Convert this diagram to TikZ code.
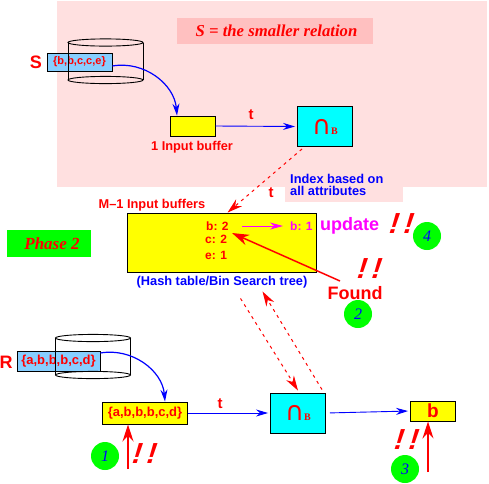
\documentclass[tikz,border=0pt]{standalone}
\usepackage{amsmath}
\usepackage{fontspec}
\setmainfont{Liberation Sans}
\newfontfamily\serifit{Liberation Serif}
\newfontfamily\capfont{DejaVu Sans}
\usepackage{xcolor}
\usetikzlibrary{arrows.meta, positioning, calc}
\definecolor{bgpink}{HTML}{FFE0E0}
\definecolor{titlepink}{HTML}{FFC0C0}
\definecolor{tagblue}{HTML}{87CEFF}
\definecolor{phasegreen}{HTML}{00FF00}
\definecolor{bufyellow}{HTML}{FFFF00}
\definecolor{probecyan}{HTML}{00FFFF}
\definecolor{updmagenta}{HTML}{FF00FF}

\begin{document}
\begin{tikzpicture}[
  x=1pt, y=-1pt,
  box/.style={rectangle, draw=black, line width=0.9pt, inner sep=0pt, text=red},
  buf/.style={box, fill=bufyellow, font=\fontsize{13}{14}\bfseries},
  probe/.style={box, fill=probecyan, minimum width=55pt, minimum height=40pt},
  tagbox/.style={box, fill=tagblue, font=\fontsize{13}{14}\bfseries},
  lbl/.style={inner sep=0pt, text=red, font=\fontsize{12.8}{14}\bfseries},
  lblblue/.style={inner sep=0pt, text=blue, align=left, font=\fontsize{12.8}{11.5}\bfseries},
  rel/.style={inner sep=0pt, text=red, font=\fontsize{18}{20}\bfseries},
  bang/.style={inner sep=0pt, text=red, xslant=0.12, font=\fontsize{29}{29}\bfseries\itshape},
  num/.style={circle, fill=phasegreen, minimum size=28pt, inner sep=0pt, text=blue, font=\serifit\fontsize{16}{16}\itshape},
  ar/.style={-{Stealth[length=12pt, width=7pt]}, line width=0.9pt, blue, shorten >=2pt},
  dsh/.style={-{Stealth[length=15pt, width=9pt]}, line width=1pt, red, dash pattern=on 3pt off 4pt},
  big/.style={-{Stealth[length=17pt, width=11pt]}, line width=1.5pt, red},
]
  \useasboundingbox (0,0) rectangle (489,483);
  % backgrounds
  \fill[bgpink] (57,1) rectangle (487,187);
  \fill[bgpink] (285,187) rectangle (403,202);
  \node[fill=titlepink, minimum width=196pt, minimum height=26pt, inner sep=0pt, text=red,
        font=\serifit\fontsize{16.7}{17}\bfseries\itshape] (title) at (275,31) {\hspace*{3pt}S = the smaller relation};
  \node[fill=phasegreen, minimum width=84pt, minimum height=27pt, inner sep=0pt, text=red,
        font=\serifit\fontsize{17}{17}\bfseries\itshape] (phase) at (49,243.5) {\hspace*{6pt}Phase 2};

  % relation S
  \node[tagbox, minimum width=65pt, minimum height=18pt, font=\fontsize{11}{12}\bfseries] (stag) at (79.5,62) {\{b,b,c,c,e\}};
  \node[rel] (slbl) at (36,62) {S};
  \node[buf, minimum width=45pt, minimum height=20pt] (sbuf) at (192.5,126) {};
  \node[lbl] (sbuflbl) at (192,147) {1 Input buffer};
  \node[probe] (sprobe) at (325,126.5) {{\capfont\fontsize{26}{26}\selectfont ∩}{\serifit\bfseries\fontsize{10}{10}\selectfont B}};
  \node[lbl] (st) at (251,115) {\fontsize{15}{15}\selectfont t};

  % relation R
  \node[tagbox, minimum width=83pt, minimum height=20pt] (rtag) at (58.5,361) {\{a,b,b,b,c,d\}};
  \node[rel] (rlbl) at (6,362) {R};
  \node[buf, minimum width=85pt, minimum height=22pt] (rbuf) at (145,413) {\{a,b,b,b,c,d\}};
  \node[lbl] (rt) at (220,404) {\fontsize{15}{15}\selectfont t};
  \node[probe] (rprobe) at (298,413) {{\capfont\fontsize{26}{26}\selectfont ∩}{\serifit\bfseries\fontsize{10}{10}\selectfont B}};
  \node[buf, minimum width=45pt, minimum height=20pt, font=\fontsize{19}{19}\bfseries] (out) at (433,411) {b};

  % disks, drawn over the tags
  \foreach \cx/\ct/\cb in {105.5/42.5/80, 93/338/375} {
    \draw[line width=0.9pt] (\cx,\ct) ellipse (37.5pt and 3.6pt);
    \draw[line width=0.9pt] (\cx,\cb) ellipse (37.5pt and 3.6pt);
    \draw[line width=0.9pt] (\cx-37.5,\ct) -- (\cx-37.5,\cb) (\cx+37.5,\ct) -- (\cx+37.5,\cb);
  }

  % hash table
  \node[buf, minimum width=189pt, minimum height=59pt] (hash) at (221.5,242.5) {};
  \node[lbl] (hashlbl) at (152,205) {M--1 Input buffers};
  \node[lbl, anchor=west, font=\fontsize{12}{14}\bfseries] (bcnt) at (206,226) {b: 2};
  \node[lbl, anchor=west, font=\fontsize{12}{14}\bfseries] (ccnt) at (205,239) {c: 2};
  \node[lbl, anchor=west, font=\fontsize{12}{14}\bfseries] (ecnt) at (205,255) {e: 1};
  \node[lblblue] (hashcap) at (222,282) {(Hash table/Bin Search tree)};
  \node[lblblue, anchor=north west, align=left, font=\fontsize{12.8}{12}\bfseries] (idx) at (290,174) {Index based on\\all attributes};
  \node[lbl] (dt) at (271,193) {\fontsize{15}{15}\selectfont t};
  \node[inner sep=0pt, text=updmagenta, font=\fontsize{12}{14}\bfseries, anchor=west] (bone) at (290,226) {b: 1};
  \node[inner sep=0pt, text=updmagenta, font=\fontsize{18}{18}\bfseries, anchor=west] (upd) at (320,226) {update};
  \coordinate (foot) at (340,281);
  \coordinate (hit) at (232,233);
  \coordinate (magl) at (242,226);
  \node[rel] (found) at (355,293) {Found};

  % marks
  \node[bang] (bangd) at (402,224) {!\,!};
  \node[bang] (bangf) at (370,269) {!\,!};
  \node[bang] (bango) at (407,440) {!\,!};
  \node[bang] (bangi) at (145,454) {!\,!};
  \node[num] (nf) at (427,236) {4};
  \node[num] (nt) at (358,314) {2};
  \node[num] (nh) at (405,469) {3};
  \node[num] (no) at (105,456) {1};
  \coordinate (oneup) at (128,469);
  \coordinate (outup) at (428,472);

  % connectors
  \draw[ar, line width=1.2pt, shorten >=0pt] (stag.east) ++(0,4) to[out=10, in=95] ($(sbuf.north)+(-15.5,0)$);
  \draw[ar, line width=1.2pt, shorten >=0pt] (rtag.east) ++(0,-8) to[out=10, in=95] ($(rbuf.north)+(20,0)$);
  \draw[ar] (sbuf.east) -- (sprobe.west);
  \draw[ar] (rbuf.east) -- (rprobe.west);
  \draw[ar, shorten <=4pt] (rprobe.east) -- (out.west);
  \draw[dsh] ($(sprobe.south west)+(5,2)$) -- ($(hash.north west)+(101,0)$);
  \draw[dsh] ($(hash.south)+(19,26)$) -- ($(rprobe.north)+(0,-2)$);
  \draw[dsh] ($(rprobe.north)+(24,-3)$) -- ($(hash.south)+(41,19)$);
  \draw[-{Stealth[length=13pt, width=7pt]}, line width=0.9pt, updmagenta, shorten >=7pt] (magl) -- (bone.west);
  \draw[big] (foot) -- (hit);
  \draw[big] (oneup) -- (rbuf.south -| oneup);
  \draw[big] (outup) -- (out.south -| outup);
\end{tikzpicture}
\end{document}
